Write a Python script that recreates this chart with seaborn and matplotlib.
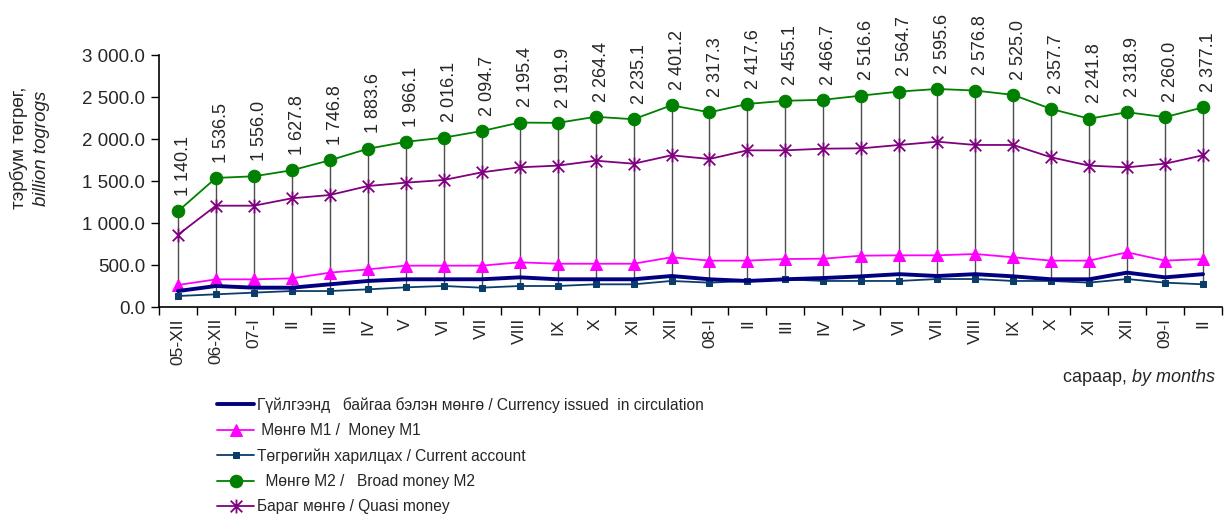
import matplotlib
matplotlib.use("Agg")
import matplotlib.pyplot as plt
from matplotlib.path import Path
import seaborn as sns
import numpy as np
import pandas as pd

months = ["05-XII", "06-XII", "07-I", "II", "III", "IV", "V", "VI", "VII", "VIII", "IX", "X", "XI", "XII",
          "08-I", "II", "III", "IV", "V", "VI", "VII", "VIII", "IX", "X", "XI", "XII", "09-I", "II"]

broad_m2 = [1140.1, 1536.5, 1556.0, 1627.8, 1746.8, 1883.6, 1966.1, 2016.1, 2094.7, 2195.4, 2191.9, 2264.4,
            2235.1, 2401.2, 2317.3, 2417.6, 2455.1, 2466.7, 2516.6, 2564.7, 2595.6, 2576.8, 2525.0, 2357.7,
            2241.8, 2318.9, 2260.0, 2377.1]
quasi = [860, 1206, 1206, 1294, 1333, 1440, 1480, 1512, 1603, 1663, 1683, 1742, 1706, 1806,
         1762, 1865, 1865, 1885, 1889, 1929, 1968, 1929, 1929, 1782, 1683, 1663, 1706, 1806]
money_m1 = [262, 329, 329, 341, 409, 448, 492, 492, 492, 532, 515, 515, 515, 592,
            552, 552, 571, 575, 611, 615, 615, 631, 592, 552, 552, 651, 552, 571]
currency = [190, 250, 230, 230, 270, 310, 330, 330, 330, 353, 330, 330, 330, 369,
            330, 310, 330, 345, 365, 391, 369, 391, 365, 330, 330, 409, 353, 391]
current_acc = [131, 151, 171, 190, 190, 210, 234, 250, 230, 250, 250, 270, 270, 310,
               290, 310, 330, 310, 310, 310, 333, 333, 310, 310, 290, 333, 290, 270]

labels = {
    "currency": "Гүйлгээнд   байгаа бэлэн мөнгө / Currency issued  in circulation",
    "m1": " Мөнгө М1 /  Money M1",
    "acc": "Төгрөгийн харилцах / Current account",
    "m2": "  Мөнгө М2 /   Broad money M2",
    "quasi": "Бараг мөнгө / Quasi money",
}

sns.set_theme(style="white")
plt.rcParams["font.family"] = ["Liberation Sans", "DejaVu Sans"]

x = np.arange(len(months))
df = pd.DataFrame({"x": x, "m2": broad_m2, "quasi": quasi, "m1": money_m1,
                   "currency": currency, "acc": current_acc})

fig = plt.figure(figsize=(12.25, 5.19), dpi=100)
ax = fig.add_axes([159 / 1225, 1 - 307 / 519, (1222 - 159) / 1225, (307 - 55) / 519])

# high-low lines
ax.vlines(x, df["acc"], df["m2"], color="#4d4d4d", lw=1.0, zorder=1)

star = Path([(-1, -1), (1, 1), (-1, 1), (1, -1), (0, -1.2), (0, 1.2)],
            [Path.MOVETO, Path.LINETO, Path.MOVETO, Path.LINETO, Path.MOVETO, Path.LINETO])

sns.lineplot(data=df, x="x", y="currency", color="#000080", lw=2.8, label=labels["currency"], ax=ax, zorder=4)
sns.lineplot(data=df, x="x", y="m1", color="#ff00ff", lw=1.3, marker="^", markersize=9,
             markeredgecolor="#ff00ff", label=labels["m1"], ax=ax, zorder=3)
sns.lineplot(data=df, x="x", y="acc", color="#0b3d6b", lw=1.3, marker="s", markersize=5,
             markeredgecolor="#0b3d6b", label=labels["acc"], ax=ax, zorder=3)
sns.lineplot(data=df, x="x", y="m2", color="#008000", lw=1.3, marker="o", markersize=9,
             markeredgecolor="#008000", label=labels["m2"], ax=ax, zorder=3)
sns.lineplot(data=df, x="x", y="quasi", color="#800080", lw=1.3, marker=star, markersize=10,
             markeredgecolor="#800080", markerfacecolor="none", markeredgewidth=1.3,
             label=labels["quasi"], ax=ax, zorder=3)

for xi, v in zip(x, broad_m2):
    s = f"{v:,.1f}".replace(",", " ")
    ax.annotate(s, (xi, v), xytext=(4, 11), textcoords="offset points", rotation=90,
                ha="center", va="bottom", fontsize=13)

ax.set_xlim(-0.5, len(months) - 0.5)
ax.set_ylim(0, 3000)
ax.set_yticks(np.arange(0, 3001, 500))
ax.set_yticklabels([f"{v:,.1f}".replace(",", " ") for v in np.arange(0, 3001, 500)], fontsize=13.5)
ax.set_xticks(x)
ax.set_xticklabels(months, rotation=90, fontsize=12.5)
ax.set_xticks(np.arange(-0.5, len(months)), minor=True)
ax.tick_params(axis="x", which="major", length=0, pad=8)
ax.tick_params(axis="x", which="minor", length=6, width=1, color="black", direction="out", bottom=True)
ax.tick_params(axis="y", length=6, width=1, color="black", direction="out", left=True, pad=4)
ax.set_xlabel("")
ax.set_ylabel("")
for side in ["top", "right"]:
    ax.spines[side].set_visible(False)
for side in ["left", "bottom"]:
    ax.spines[side].set_color("black")
    ax.spines[side].set_linewidth(1.2)

fig.text(19 / 1225, 1 - 148 / 519, "тэрбум төгрөг,", rotation=90, ha="center", va="center", fontsize=13.5)
fig.text(41 / 1225, 1 - 148 / 519, "billion togrogs", rotation=90, ha="center", va="center",
         fontsize=13.5, style="italic")
fig.text(1215 / 1225, 1 - 378 / 519, "сараар, ", ha="right", va="center", fontsize=13)
t = fig.text(1215 / 1225, 1 - 378 / 519, "by months", ha="right", va="center", fontsize=13, style="italic")

ax.get_legend().remove()
h, l = ax.get_legend_handles_labels()
fig.legend(h, l, loc="upper left", bbox_to_anchor=(217 / 1225, 1 - 397 / 519), frameon=False,
           fontsize=11.2, handlelength=2.4, handletextpad=0.2, labelspacing=0.66, borderpad=0,
           borderaxespad=0)

# place "сараар, " before italic part
fig.canvas.draw()
bb = t.get_window_extent()
for txt in fig.texts:
    if txt.get_text() == "сараар, ":
        txt.set_position((bb.x0 / 1225, 1 - 378 / 519))

fig.savefig("out.png", dpi=100)
